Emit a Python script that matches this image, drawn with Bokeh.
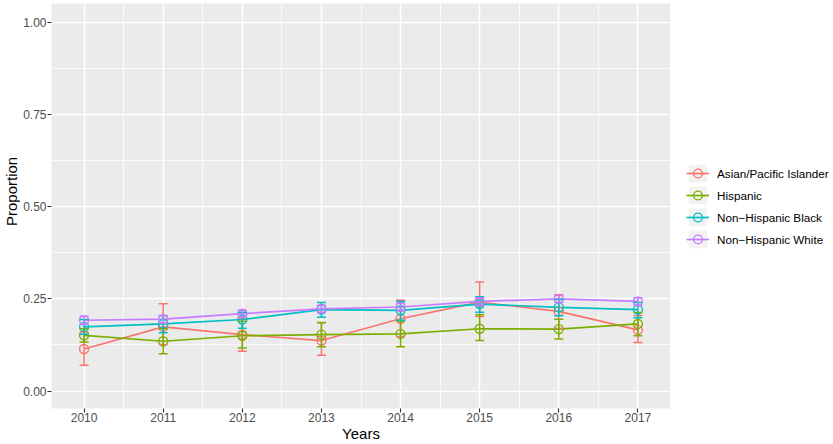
from math import pi
from bokeh.plotting import figure
from bokeh.layouts import row
from bokeh.models import Range1d, FixedTicker, Legend, LegendItem, ColumnDataSource, Label
from bokeh.embed import file_html
from bokeh.resources import INLINE

# ---------------- data ----------------
years = [2010, 2011, 2012, 2013, 2014, 2015, 2016, 2017]
year_labels = ["2010", "2011", "2012", "2013", "2014", "2015", "2016", "2017"]
y_ticks = [0.0, 0.25, 0.5, 0.75, 1.0]
y_tick_labels = ["0.00", "0.25", "0.50", "0.75", "1.00"]

groups = ["Asian/Pacific Islander", "Hispanic", "Non\u2212Hispanic Black", "Non\u2212Hispanic White"]

asian = [0.114, 0.174, 0.153, 0.137, 0.196, 0.241, 0.216, 0.166]
asian_lo = [0.070, 0.126, 0.108, 0.097, 0.148, 0.202, 0.170, 0.132]
asian_hi = [0.160, 0.237, 0.198, 0.185, 0.246, 0.296, 0.261, 0.205]

hisp = [0.151, 0.135, 0.150, 0.153, 0.155, 0.169, 0.168, 0.182]
hisp_lo = [0.133, 0.101, 0.117, 0.120, 0.120, 0.137, 0.141, 0.150]
hisp_hi = [0.169, 0.169, 0.189, 0.186, 0.190, 0.207, 0.195, 0.213]

black = [0.174, 0.182, 0.194, 0.221, 0.219, 0.236, 0.227, 0.221]
black_lo = [0.154, 0.158, 0.170, 0.200, 0.192, 0.214, 0.204, 0.199]
black_hi = [0.194, 0.204, 0.214, 0.240, 0.243, 0.256, 0.248, 0.240]

white = [0.192, 0.195, 0.210, 0.223, 0.228, 0.243, 0.250, 0.243]
white_lo = [0.181, 0.185, 0.201, 0.213, 0.218, 0.233, 0.241, 0.233]
white_hi = [0.203, 0.205, 0.219, 0.233, 0.238, 0.253, 0.259, 0.253]

colors = ["#F8766D", "#7CAE00", "#00BFC4", "#C77CFF"]

series = [
    (asian, asian_lo, asian_hi),
    (hisp, hisp_lo, hisp_hi),
    (black, black_lo, black_hi),
    (white, white_lo, white_hi),
]

FONT = "Liberation Sans"
H = 444
LINE_W = 1.7
BAR_W = 1.5
NAN = float("nan")

# ---------------- y-axis title strip ----------------
LAB_W = 20
lab = figure(width=LAB_W, height=H, output_backend="svg", toolbar_location=None,
             x_axis_type=None, y_axis_type=None,
             x_range=Range1d(0, LAB_W), y_range=Range1d(0, H),
             min_border=0)
lab.outline_line_color = None
lab.background_fill_color = "white"
lab.border_fill_color = "white"
lab.add_layout(Label(x=11, y=H - 206, text="Proportion", angle=pi / 2,
                     text_align="center", text_baseline="middle",
                     text_font=FONT, text_font_size="15px", text_color="black"))

# ---------------- main panel ----------------
p = figure(width=670 - LAB_W, height=H, output_backend="svg", toolbar_location=None,
           x_range=Range1d(2009.588, 2017.412), y_range=Range1d(-0.0474, 1.0514),
           min_border_left=49 - LAB_W, min_border_right=0, min_border_top=3, min_border_bottom=35)

p.background_fill_color = "#EBEBEB"
p.border_fill_color = "white"
p.outline_line_color = None

x_minor = [years[0] - 0.5] + [y + 0.5 for y in years]
y_minor = [(a + b) / 2 for a, b in zip(y_ticks[:-1], y_ticks[1:])]
p.xaxis.ticker = FixedTicker(ticks=years, minor_ticks=x_minor)
p.yaxis.ticker = FixedTicker(ticks=y_ticks, minor_ticks=y_minor)
p.xaxis.major_label_overrides = dict(zip(years, year_labels))
p.yaxis.major_label_overrides = dict(zip(y_ticks, y_tick_labels))

for g in (p.xgrid, p.ygrid):
    g.grid_line_color = "white"
    g.grid_line_width = 1.5
    g.minor_grid_line_color = "white"
    g.minor_grid_line_width = 0.8

for ax in (p.xaxis, p.yaxis):
    ax.axis_line_color = None
    ax.major_tick_line_color = "#333333"
    ax.major_tick_line_width = 1.1
    ax.major_tick_out = 4
    ax.major_tick_in = 0
    ax.minor_tick_line_color = None
    ax.major_label_text_font = FONT
    ax.major_label_text_font_size = "12px"
    ax.major_label_text_color = "#4D4D4D"
    ax.axis_label_text_font = FONT
    ax.axis_label_text_font_size = "15px"
    ax.axis_label_text_font_style = "normal"
    ax.axis_label_text_color = "black"
    ax.axis_label_standoff = 0

p.xaxis.major_label_standoff = 0
p.yaxis.major_label_standoff = 1
p.xaxis.axis_label = "Years"

line_rs = []
for (vals, lo, hi), c in zip(series, colors):
    src = ColumnDataSource(dict(x=years, y=vals, lo=lo, hi=hi))
    p.line("x", "y", source=src, line_color=c, line_width=LINE_W)
    line_rs.append(src)

for src, c in zip(line_rs, colors):
    p.scatter("x", "y", source=src, marker="circle", size=9, fill_color=None,
              line_color=c, line_width=1.4)

for src, c in zip(line_rs, colors):
    p.segment(x0="x", y0="lo", x1="x", y1="hi", source=src, line_color=c, line_width=BAR_W)
    p.scatter("x", "lo", source=src, marker="dash", size=9, line_color=c, line_width=BAR_W)
    p.scatter("x", "hi", source=src, marker="dash", size=9, line_color=c, line_width=BAR_W)

# ---------------- legend strip ----------------
leg = figure(width=833 - 670, height=H, output_backend="svg", toolbar_location=None,
             x_axis_type=None, y_axis_type=None,
             x_range=Range1d(0, 1), y_range=Range1d(0, 1), min_border=0)
leg.outline_line_color = None
leg.background_fill_color = "white"
leg.border_fill_color = "white"

items = []
for g, c in zip(groups, colors):
    bg = leg.rect(x=[NAN], y=[NAN], width=1, height=1, fill_color="#F2F2F2", line_color=None)
    lr = leg.line(x=[NAN, NAN], y=[NAN, NAN], line_color=c, line_width=LINE_W)
    pr = leg.scatter(x=[NAN], y=[NAN], marker="circle", fill_color=None, line_color=c, line_width=1.4)
    items.append(LegendItem(label=g, renderers=[bg, lr, pr]))

legend = Legend(items=items, location=(16, 158), margin=0, padding=0,
                glyph_width=23, glyph_height=22, label_height=22, spacing=0,
                label_standoff=8, label_text_font=FONT, label_text_font_size="11.7px",
                label_text_color="black", border_line_color=None,
                background_fill_alpha=0)
leg.add_layout(legend)

layout = row(lab, p, leg)
open("out.html", "w").write(file_html(layout, INLINE))
